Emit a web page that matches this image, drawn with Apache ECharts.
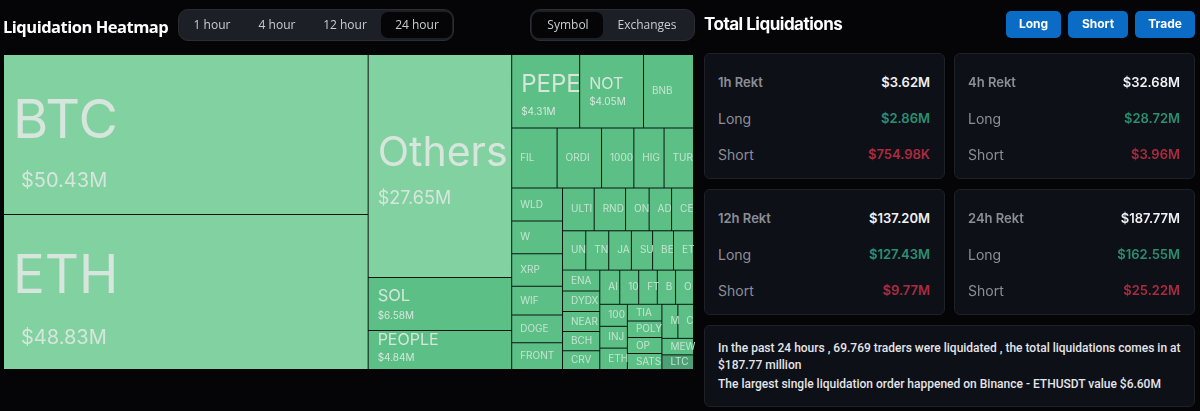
<!DOCTYPE html>
<html>
<head>
<meta charset="utf-8">
<title>Liquidation Heatmap</title>
<script src="https://cdn.jsdelivr.net/npm/echarts@6/dist/echarts.min.js"></script>
<style>
  html, body { margin: 0; padding: 0; background: #050508; overflow: hidden; }
  body { width: 1200px; height: 411px; position: relative; font-family: Inter, Roboto, sans-serif; color: #fff; }
  #main_charts { position: absolute; left: 0; top: 0; width: 1200px; height: 411px; }
  .abs { position: absolute; white-space: nowrap; }
  .pill { background: #1c1f26; border: 1px solid #2a2d33; border-radius: 10px; box-sizing: border-box; top: 9px; height: 32px; }
  .tab { top: 9px; height: 32px; line-height: 32px; font-size: 12px; color: #c9ccd2; transform: translateX(-50%); font-family: "Open Sans", sans-serif; }
  .tabOn { background: #050507; border-radius: 7px; top: 12px; height: 26px; }
  .btn { top: 11px; height: 27px; line-height: 26px; background: #0a6cc4; border-radius: 5px; text-align: center; font-size: 12px; font-weight: 700; }
  .card { background: #0e1018; border: 1px solid #1e2128; border-radius: 6px; box-sizing: border-box; }
  .rowL { font-size: 14px; color: #8b8e96; transform: translateY(-50%); }
  .rowV { font-size: 13px; font-weight: 600; transform: translateY(-50%); text-align: right; }
</style>
</head>
<body>
<div id="main_charts"></div>
<div id="ui"></div>
<script>
// names as far as the tiles show them, narrow tiles cut them off
var names = ['BTC','ETH','Others','SOL','PEOPLE','PEPE','NOT','BNB','FIL','ORDI','1000','HIG','TUR',
  'WLD','W','XRP','WIF','DOGE','FRONT','ULTI','RND','ON','AD','CE','UN','TN','JA','SU','BE','ET',
  'ENA','DYDX','NEAR','BCH','CRV','AI','10','FT','B','O','100','INJ','ETH ','TIA','POLY','OP','SATS','M','C','MEW','LTC'];
var values = [50.43,48.83,27.65,6.58,4.84,4.31,4.05,3.17,2.36,2.31,1.68,1.57,1.53,
  1.45,1.44,1.42,1.27,1.21,1.18,1.17,1.16,0.87,0.83,0.81,0.79,0.78,0.77,0.72,0.71,0.68,
  0.67,0.66,0.65,0.62,0.60,0.59,0.56,0.55,0.54,0.53,0.525,0.52,0.51,0.50,0.49,0.48,0.475,0.47,0.46,0.45,0.40];

var tabs = ['1 hour','4 hour','12 hour','24 hour'];
var tabX = [212,277,345,417];
var cardTitles = ['1h Rekt','4h Rekt','12h Rekt','24h Rekt'];
var cardTotal = ['$3.62M','$32.68M','$137.20M','$187.77M'];
var cardLong = ['$2.86M','$28.72M','$127.43M','$162.55M'];
var cardShort = ['$754.98K','$3.96M','$9.77M','$25.22M'];

// tiles that show the amount under the name
var bigLabels = {
  BTC: { size: 54, sub: 20, top: 32, gap: 48, indent: 8 },
  ETH: { size: 53, sub: 20, top: 28, gap: 52, indent: 8 },
  Others: { size: 41, sub: 18, top: 72, gap: 37 },
  PEPE: { size: 24, sub: 10, top: 14, gap: 24 },
  NOT: { size: 16, sub: 10, top: 19, gap: 15 },
  SOL: { size: 16.5, sub: 10, top: 7, gap: 19 },
  PEOPLE: { size: 16, sub: 10, top: -1, gap: 15 }
};

function tileColor(name, value) {
  if (name === 'LTC') return '#4d9f76';
  if (value > 10) return '#82d1a1';
  return '#5bbf86';
}

var seriesData = names.map(function (name, i) {
  var big = bigLabels[name];
  var item = { name: name, value: values[i], itemStyle: { color: tileColor(name, values[i]) } };
  if (big) {
    item.label = {
      position: [4, big.top],
      rich: {
        n: { fontSize: big.size, lineHeight: big.size * 1.3, color: '#d6e6dc', fontFamily: 'Inter' },
        v: { fontSize: big.sub, lineHeight: big.gap, color: '#d6e6dc', fontFamily: 'Inter', padding: [0, 0, 0, big.indent || 0] }
      }
    };
  }
  return item;
});

var myChart = echarts.init(document.getElementById('main_charts'));
myChart.setOption({
  backgroundColor: 'transparent',
  animation: false,
  tooltip: { show: false },
  series: [{
    type: 'treemap',
    left: 4, top: 55, width: 689, height: 314,
    roam: false,
    nodeClick: false,
    breadcrumb: { show: false },
    itemStyle: { borderWidth: 0, gapWidth: 1, borderColor: '#0b1610' },
    label: {
      show: true,
      position: 'insideLeft',
      distance: 3,
      padding: [0, 5, 0, 5],
      overflow: 'none',
      color: '#c6e4d1',
      fontSize: 10,
      lineHeight: 10,
      fontFamily: 'Inter',
      formatter: function (p) {
        if (bigLabels[p.name]) return '{n|' + p.name + '}\n{v|$' + p.value.toFixed(2) + 'M}';
        return p.name;
      }
    },
    data: seriesData
  }]
});

// toolbar and side panel
var html = '';
function add(cls, style, text) {
  html += '<div class="abs ' + cls + '" style="' + style + '">' + (text || '') + '</div>';
}
add('', 'left:3px;top:15px;font:700 16.5px \'Open Sans\';letter-spacing:-0.5px', 'Liquidation Heatmap');
add('pill', 'left:178px;width:276px');
add('tabOn', 'left:381px;width:71px');
tabs.forEach(function (t, i) { add('tab', 'left:' + tabX[i] + 'px', t); });
add('pill', 'left:530px;width:165px');
add('tabOn', 'left:532px;width:71px');
add('tab', 'left:568px', 'Symbol');
add('tab', 'left:647px', 'Exchanges');
add('', 'left:704px;top:14px;font:700 17px Inter;letter-spacing:-0.5px', 'Total Liquidations');
add('btn', 'left:1006px;width:55px', 'Long');
add('btn', 'left:1068px;width:60px', 'Short');
add('btn', 'left:1135px;width:60px', 'Trade');

cardTitles.forEach(function (title, i) {
  var x = i % 2 ? 954 : 704;
  var y = i < 2 ? 53 : 189;
  add('card', 'left:' + x + 'px;top:' + y + 'px;width:241px;height:126px');
  var lx = 'left:' + (x + 14) + 'px;';
  var rx = 'right:' + (1200 - x - 226) + 'px;';
  add('rowL', lx + 'top:' + (y + 29) + 'px;font-size:13px;font-weight:600', title);
  add('rowV', rx + 'top:' + (y + 29) + 'px;color:#f0f1f3', cardTotal[i]);
  add('rowL', lx + 'top:' + (y + 65) + 'px', 'Long');
  add('rowV', rx + 'top:' + (y + 65) + 'px;color:#2a8f70', cardLong[i]);
  add('rowL', lx + 'top:' + (y + 101) + 'px', 'Short');
  add('rowV', rx + 'top:' + (y + 101) + 'px;color:#ab2b3f', cardShort[i]);
});
add('card', 'left:704px;top:325px;width:491px;height:82px');
var noteStyle = 'left:718px;font:500 12px Roboto;color:#e4e5e8;transform:translateY(-50%);';
add('', noteStyle + 'top:348px', 'In the past 24 hours , 69.769 traders were liquidated , the total liquidations comes in at');
add('', noteStyle + 'top:365px', '$187.77 million');
add('', noteStyle + 'top:384px', 'The largest single liquidation order happened on Binance - ETHUSDT value $6.60M');
document.getElementById('ui').innerHTML = html;
</script>
</body>
</html>
